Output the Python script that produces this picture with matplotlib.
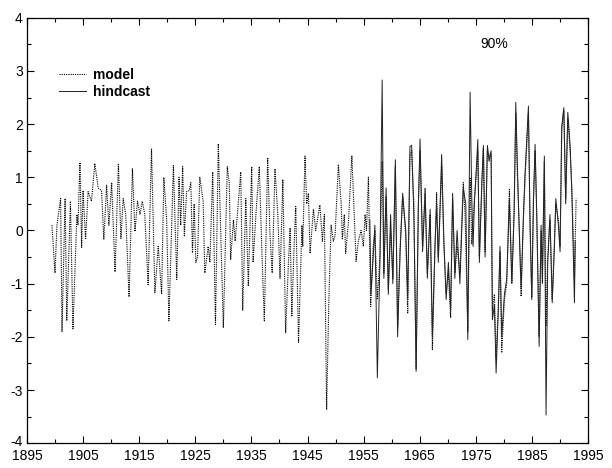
import matplotlib
matplotlib.use("Agg")
import matplotlib.pyplot as plt
from matplotlib.ticker import MultipleLocator
from matplotlib.transforms import ScaledTranslation

plt.rcParams["font.family"] = ["Liberation Sans", "DejaVu Sans"]
plt.rcParams["axes.unicode_minus"] = False

# model (dotted) turning points
model_years = [
    1899.46, 1900.0, 1900.35, 1901.0, 1901.25, 1901.8, 1902.1, 1902.75, 1903.2, 1903.9,
    1904.1, 1904.45, 1904.75, 1905.0, 1905.45, 1905.9, 1906.5, 1907.1, 1907.7, 1908.3,
    1908.7, 1909.2, 1909.6, 1910.1, 1910.7, 1911.3, 1911.75, 1912.15, 1912.6, 1913.2,
    1913.8, 1914.25, 1914.7, 1915.15, 1915.55, 1916.0, 1916.6, 1917.2, 1917.8, 1918.4,
    1919.0, 1919.4, 1919.9, 1920.3, 1921.1, 1921.7, 1922.1, 1922.4, 1922.75, 1923.05,
    1923.45, 1923.9, 1924.2, 1924.5, 1924.8, 1925.1, 1925.4, 1925.8, 1926.4, 1926.7,
    1927.3, 1927.6, 1928.1, 1928.6, 1929.1, 1930.0, 1930.7, 1931.05, 1931.3, 1931.8,
    1932.1, 1932.5, 1933.1, 1933.45, 1934.0, 1934.45, 1935.05, 1935.3, 1935.8, 1936.4,
    1936.9, 1937.3, 1937.9, 1938.3, 1938.7, 1939.2, 1939.7, 1940.1, 1940.6, 1941.1,
    1941.6, 1941.9, 1942.2, 1942.6, 1942.9, 1943.4, 1944.0, 1944.15, 1944.55, 1944.85,
    1945.15, 1945.45, 1946.05, 1946.45, 1947.2, 1947.65, 1948.0, 1948.4, 1948.8, 1949.2,
    1949.6, 1949.9, 1950.5, 1951.0, 1951.2, 1951.55, 1951.8, 1952.3, 1952.9, 1953.65,
    1954.05, 1954.55, 1954.95, 1955.25, 1955.5, 1955.85, 1956.25, 1956.7, 1957.0, 1957.44,
    1957.9, 1958.3, 1958.6, 1959.0, 1959.4, 1959.8, 1960.2, 1960.65, 1961.05, 1961.5,
    1961.95, 1962.5, 1962.85, 1963.25, 1963.55, 1963.95, 1964.35, 1964.75, 1965.05, 1965.5,
    1965.95, 1966.35, 1966.85, 1967.25, 1967.7, 1968.0, 1968.3, 1968.6, 1968.9, 1969.3,
    1969.7, 1970.1, 1970.5, 1970.85, 1971.25, 1971.65, 1972.15, 1972.75, 1973.07, 1973.56,
    1973.97, 1974.27, 1974.73, 1975.04, 1975.34, 1975.62, 1976.05, 1976.34, 1976.64, 1977.05,
    1977.35, 1977.71, 1977.94, 1978.3, 1978.6, 1979.0, 1979.3, 1979.6, 1980.08, 1980.5,
    1980.97, 1981.4, 1981.81, 1982.11, 1982.4, 1982.75, 1983.06, 1983.47, 1983.77, 1984.36,
    1984.66, 1984.96, 1985.25, 1985.55, 1985.85, 1986.27, 1986.62, 1986.85, 1987.2, 1987.5,
    1987.8, 1988.2, 1988.6, 1989.0, 1989.24, 1989.7, 1990.0, 1990.3, 1990.67, 1991.0,
    1991.38, 1991.79, 1992.1, 1992.56, 1992.86,
]
model_vals = [
    0.1, -0.8, 0.1, 0.6, -1.9, 0.6, -1.7, 0.55, -1.85, 0.3,
    0.1, 1.28, -0.32, 0.75, -0.17, 0.73, 0.55, 1.26, 0.8, 0.75,
    -0.17, 0.85, 0.1, 0.9, -0.78, 1.26, -0.15, 0.6, 0.3, -1.25,
    1.16, -0.02, 0.55, 0.3, 0.55, 0.3, -1.02, 1.54, -1.17, -0.3,
    -1.2, 1.0, 0.2, -1.7, 1.22, -0.92, 1.0, 0.1, 1.2, -0.1,
    0.73, 0.75, 0.9, -0.42, 0.5, -0.6, -0.5, 1.0, 0.55, -0.8,
    -0.3, -0.6, 1.1, -1.77, 1.63, -1.83, 1.2, 0.9, -0.55, 0.2,
    -0.2, 0.3, 1.1, -1.5, 0.6, -1.05, 1.2, -0.6, 0.3, 1.2,
    -0.5, -1.7, 1.37, -0.04, -0.8, 1.16, 0.3, -0.9, 0.96, -1.92,
    -0.6, 0.05, -1.62, -0.3, 0.45, -2.1, 0.1, -0.3, 1.4, 0.5,
    0.7, -0.43, 0.4, 0.0, 0.48, -0.2, 0.3, -3.37, -1.3, 0.1,
    -0.2, -0.1, 1.24, 0.5, -0.17, 0.3, -0.43, 0.17, 1.41, -0.58,
    -0.2, 0.0, -0.3, 0.3, 0.0, 1.0, -1.43, -0.3, 0.0, -1.3,
    -0.5, 1.3, -0.8, 0.64, -1.1, 0.0, -0.9, 1.2, -1.8, -0.3,
    0.64, -0.1, -1.55, 1.4, 1.5, 0.5, -2.6, 0.45, 1.5, -0.3,
    0.8, -0.8, 0.3, -2.24, -0.4, 0.71, -0.5, 0.3, 1.2, -0.3,
    -1.17, -0.8, -1.64, 0.6, -0.8, -0.3, -0.8, 0.9, 0.3, -1.9,
    1.0, -0.26, 0.6, 1.0, 1.5, -0.49, 0.8, 1.55, -0.4, 1.5,
    1.4, 1.45, -1.5, -1.2, -2.4, -1.4, -0.4, -2.3, -1.3, -1.0,
    0.77, -0.98, 0.4, 2.2, 1.0, 0.0, -1.24, 0.2, 1.0, 2.2,
    0.0, -1.26, 0.6, 1.5, 0.2, -2.0, 0.0, -1.0, 1.3, -1.8,
    -0.5, 0.2, -1.3, -0.2, 0.5, 0.2, -0.3, 1.9, 2.25, 0.6,
    2.1, 1.5, 0.8, -0.9, 0.6,
]

# hindcast (solid), 1956 onwards
hind_years = [
    1956.1, 1956.3, 1956.7, 1957.0, 1957.44, 1957.9, 1958.3, 1958.6, 1959.0, 1959.4,
    1959.8, 1960.2, 1960.65, 1961.05, 1961.5, 1961.95, 1962.5, 1962.85, 1963.25, 1963.55,
    1963.95, 1964.35, 1964.75, 1965.05, 1965.5, 1965.95, 1966.35, 1966.85, 1967.25, 1967.7,
    1968.0, 1968.3, 1968.6, 1968.9, 1969.3, 1969.7, 1970.1, 1970.5, 1970.85, 1971.25,
    1971.65, 1972.15, 1972.75, 1973.2, 1973.56, 1973.97, 1974.27, 1974.5, 1974.73, 1975.04,
    1975.34, 1975.62, 1976.05, 1976.34, 1976.64, 1977.05, 1977.35, 1977.71, 1977.94, 1978.3,
    1978.6, 1979.0, 1979.3, 1979.6, 1980.08, 1980.5, 1980.97, 1981.4, 1981.81, 1982.11,
    1982.4, 1982.75, 1983.06, 1983.47, 1983.77, 1984.36, 1984.66, 1984.96, 1985.25, 1985.55,
    1985.85, 1986.27, 1986.62, 1986.85, 1987.2, 1987.5, 1987.8, 1988.2, 1988.6, 1989.0,
    1989.24, 1989.7, 1990.0, 1990.3, 1990.67, 1991.0, 1991.38, 1991.79, 1992.1, 1992.56,
    1992.7,
]
hind_vals = [
    0.2, -1.2, -0.5, 0.1, -2.77, -0.6, 2.83, -0.9, 0.8, -1.2,
    0.3, -1.0, 1.33, -2.0, -0.4, 0.7, 0.0, -1.3, 1.58, 1.6,
    0.3, -2.65, 0.5, 1.72, -0.4, 0.7, -0.9, 0.4, -2.0, -0.3,
    0.5, -0.6, 0.4, 1.43, -0.2, -1.3, -0.6, -1.5, 0.7, -0.9,
    0.0, -1.0, 0.8, 0.5, -2.05, 2.6, 0.58, -0.3, 0.5, 1.1,
    1.71, -0.6, 0.9, 1.6, -0.5, 1.6, 1.3, 1.5, -1.68, -1.4,
    -2.68, -1.5, -0.3, -2.0, -1.2, -0.9, 0.6, -1.0, 0.3, 2.41,
    1.2, -0.1, -1.1, 0.3, 1.1, 2.34, 0.1, -1.3, 0.5, 1.62,
    0.3, -2.18, 0.1, -0.9, 1.4, -3.47, -0.6, 0.3, -1.36, -0.3,
    0.6, 0.1, -0.4, 1.96, 2.31, 0.5, 2.22, 1.6, 0.7, -1.36,
    -0.2,
]

x_ticks = list(range(1895, 1996, 10))
y_ticks = list(range(-4, 5))

fig = plt.figure(figsize=(6.12, 4.68), dpi=100)
ax = fig.add_axes([0.044, 0.053, 0.917, 0.909])

ax.plot(model_years, model_vals, color="black", lw=0.8, ls=(0, (1, 1)), label="model")
ax.plot(hind_years, hind_vals, color="#222222", lw=0.7, ls="-", label="hindcast")

ax.set_xlim(1895, 1995)
ax.set_ylim(-4, 4)
ax.set_xticks(x_ticks)
ax.set_yticks(y_ticks)
ax.xaxis.set_minor_locator(MultipleLocator(5))
ax.yaxis.set_minor_locator(MultipleLocator(0.5))
ax.tick_params(which="both", direction="in", top=True, right=True, labelsize=10, width=0.8)
ax.tick_params(which="major", length=5)
ax.tick_params(axis="x", which="major", pad=4)
ax.tick_params(axis="y", which="major", pad=3)
ax.tick_params(which="minor", length=3)
for s in ax.spines.values():
    s.set_linewidth(0.9)

# nudge the bottom y label up a little so it clears "1895"
lab = ax.get_yticklabels()[0]
lab.set_transform(lab.get_transform() + ScaledTranslation(0, 2 / 72, fig.dpi_scale_trans))

ax.legend(loc="upper left", bbox_to_anchor=(0.034, 0.912), frameon=False,
          handlelength=2.0, handletextpad=0.5, labelspacing=0.25,
          prop={"size": 10, "weight": "bold"})

ax.text(1978.2, 3.5, "90%", fontsize=10, ha="center", va="center")

fig.savefig("out.png", dpi=100)
